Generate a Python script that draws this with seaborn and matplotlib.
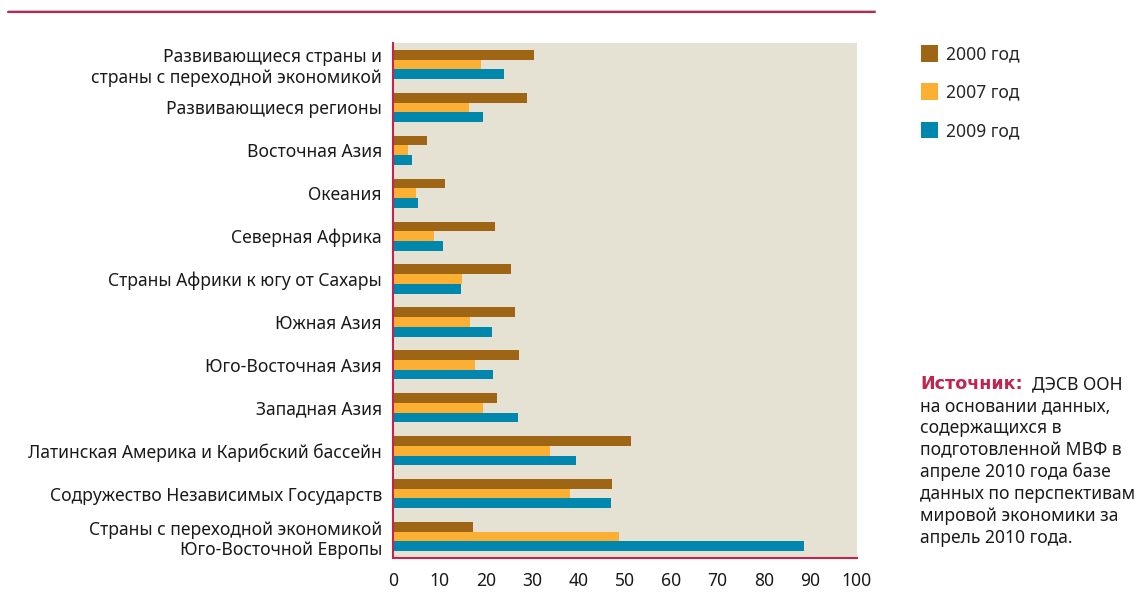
import matplotlib
matplotlib.use("Agg")
import matplotlib.pyplot as plt
import seaborn as sns
import pandas as pd
import numpy as np
from matplotlib.lines import Line2D

# regions, top to bottom
regions = [
    "Развивающиеся страны и\nстраны с переходной экономикой",
    "Развивающиеся регионы",
    "Восточная Азия",
    "Океания",
    "Северная Африка",
    "Страны Африки к югу от Сахары",
    "Южная Азия",
    "Юго-Восточная Азия",
    "Западная Азия",
    "Латинская Америка и Карибский бассейн",
    "Содружество Независимых Государств",
    "Страны с переходной экономикой\nЮго-Восточной Европы",
]
years = ["2000 год", "2007 год", "2009 год"]
vals_2000 = [30.3, 28.8, 7.3, 11.1, 21.9, 25.4, 26.2, 27.1, 22.4, 51.4, 47.3, 17.2]
vals_2007 = [19.0, 16.3, 3.2, 4.9, 8.8, 14.8, 16.5, 17.6, 19.5, 33.8, 38.1, 48.6]
vals_2009 = [23.9, 19.5, 4.2, 5.3, 10.7, 14.6, 21.3, 21.5, 26.9, 39.4, 46.9, 88.5]
x_ticks = [0, 10, 20, 30, 40, 50, 60, 70, 80, 90, 100]

colors = ["#9E6515", "#FBB034", "#0087AD"]
crimson = "#C0254F"
bg = "#E6E2D3"
txt = "#1a1a1a"
fs = 12.6

df = pd.DataFrame({
    "region": regions * 3,
    "year": [years[0]] * 12 + [years[1]] * 12 + [years[2]] * 12,
    "value": vals_2000 + vals_2007 + vals_2009,
})

sns.set_style("white")
plt.rcParams["font.family"] = ["Noto Sans", "DejaVu Sans"]

fig = plt.figure(figsize=(11.41, 6.11), dpi=100)
ax = fig.add_axes([393 / 1141, 1 - 558 / 611, 464 / 1141, 515 / 611])
ax.set_facecolor(bg)

sns.barplot(data=df, x="value", y="region", hue="year", orient="h",
            palette=colors, width=0.68, gap=0, saturation=1, linewidth=0,
            order=regions, hue_order=years, ax=ax, legend=True)

ax.set_xlim(0, 100)
ax.set_ylim(len(regions) - 0.5, -0.5)
ax.set_xticks(x_ticks)
ax.set_xlabel("")
ax.set_ylabel("")

# spines and ticks in crimson
for s in ["top", "right"]:
    ax.spines[s].set_visible(False)
for s in ["left", "bottom"]:
    ax.spines[s].set_color(crimson)
    ax.spines[s].set_linewidth(1.5)

ax.tick_params(axis="x", colors=crimson, length=6, width=1.2, labelsize=fs,
               labelcolor=txt, pad=4)
ax.tick_params(axis="y", which="major", length=0, labelsize=fs,
               labelcolor=txt, pad=8)
ax.set_yticks(np.arange(-0.5, len(regions), 1.0), minor=True)
ax.tick_params(axis="y", which="minor", colors=crimson, length=8, width=1.5)
for lbl in ax.get_yticklabels():
    lbl.set_horizontalalignment("right")
    lbl.set_multialignment("right")

# legend on the right
handles, labels = ax.get_legend_handles_labels()
ax.legend(handles, labels, loc="upper left", bbox_to_anchor=(905 / 1141, 1 - 29 / 611),
          bbox_transform=fig.transFigure, frameon=False, fontsize=fs,
          handlelength=1.0, handleheight=1.1, handletextpad=0.45, labelspacing=1.15)

# source note
src = fig.text(920 / 1141, 1 - 384 / 611, "Источник:", color=crimson, fontsize=fs,
               fontweight="bold", family=["DejaVu Sans"], va="center", ha="left")
fig.canvas.draw()
bb = src.get_window_extent(fig.canvas.get_renderer())
fig.text((bb.x1 + 9) / 1141, 1 - 384 / 611, "ДЭСВ ООН", color=txt, fontsize=fs,
         va="center", ha="left")
note_lines = [
    "на основании данных,",
    "содержащихся в",
    "подготовленной МВФ в",
    "апреле 2010 года базе",
    "данных по перспективам",
    "мировой экономики за",
    "апрель 2010 года.",
]
for i, line in enumerate(note_lines):
    fig.text(920 / 1141, 1 - (406 + 22 * i) / 611, line, color=txt,
             fontsize=fs, va="center", ha="left")

# top rule
fig.add_artist(Line2D([8 / 1141, 875 / 1141], [1 - 10 / 611, 1 - 10 / 611],
                      color="#cccccc", linewidth=0.8, transform=fig.transFigure))
fig.add_artist(Line2D([8 / 1141, 875 / 1141], [1 - 11.5 / 611, 1 - 11.5 / 611],
                      color=crimson, linewidth=1.5, transform=fig.transFigure))

fig.savefig("out.png", dpi=100, facecolor="white")
